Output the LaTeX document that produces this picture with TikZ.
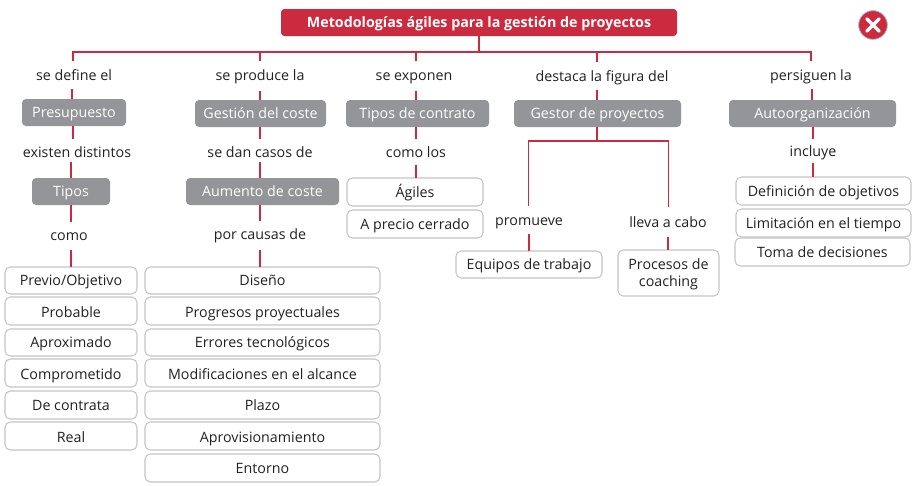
\documentclass[tikz,border=0pt]{standalone}
\usepackage{fontspec}
\setmainfont{Open Sans}
\definecolor{cred}{HTML}{CC2A3E}
\definecolor{cgrey}{HTML}{939598}
\definecolor{cedge}{HTML}{C4C6C8}
\definecolor{ctext}{HTML}{222222}
\tikzset{
  every node/.style={inner sep=0pt,outer sep=0pt,font=\fontsize{10.7}{12.8}\selectfont,text=ctext,text height=9.9pt,text depth=2.1pt},
  link/.style={draw=cred,line width=1.2pt},
  lab/.style={minimum height=#1*0.75pt},
  lab/.default=28,
  low/.style={text height=11pt,text depth=1.7pt},
  titlebox/.style={fill=cred,rounded corners=2.5pt,text=white,font=\fontsize{10.7}{12.8}\bfseries\selectfont},
  greybox/.style={fill=cgrey,rounded corners=3pt,text=white},
  itembox/.style={draw=cedge,line width=0.8pt,fill=white,rounded corners=4pt},
  twolines/.style={text height=22.4pt,text depth=2.2pt},
}
% name, x1, y1, x2, y2, style, text
\newcommand\bx[7]{\node[#6,minimum width={(#4-#2)*0.75pt},minimum height={(#5-#3)*0.75pt},align=center] (#1) at ({(#2+#4)/2},{(#3+#5)/2}) {#7};}
\newcommand\conn[4][]{\path (#4,0) coordinate (tmpx); \draw[link,#1] (#2 -| tmpx) -- (#3 -| tmpx);}
\begin{document}
\begin{tikzpicture}[x=0.75pt,y=-0.75pt]
\useasboundingbox[fill=white] (0,0) rectangle (915,486);
\bx{title}{281}{9}{677}{36}{titlebox}{Metodologías ágiles para la gestión de proyectos}
\coordinate (busl) at (73,52);
\coordinate (busr) at (811,52);
\coordinate (busm) at (479,52);
\draw[link,line cap=rect] (busl) -- (busr);
\draw[link] (title.south -| busm) -- (busm);
% column 1
\node[lab] (l11) at (74,75) {se define el};
\bx{presu}{22}{99}{126}{126}{greybox}{Presupuesto}
\node[lab=26] (l12) at (77,152) {existen distintos};
\bx{tipos}{32}{178}{110}{205}{greybox}{Tipos}
\node[lab=26] (l13) at (69,235) {como};
\bx{a1}{5}{267}{137}{294}{itembox}{Previo/Objetivo}
\bx{a2}{5}{297}{137}{325}{itembox,low}{Probable}
\bx{a3}{5}{329}{137}{356}{itembox}{Aproximado}
\bx{a4}{5}{359}{137}{387}{itembox,low}{Comprometido}
\bx{a5}{5}{391}{137}{419}{itembox}{De contrata}
\bx{a6}{5}{422}{137}{450}{itembox,low}{Real}
\conn{busl}{l11.north}{73}
\conn{l11.south}{presu.north}{72}
\conn{presu.south}{l12.north}{73}
\conn[shorten <=-3*0.75pt]{l12.south}{tipos.north}{71}
\conn{tipos.south}{l13.north}{71}
\conn[shorten <=1.5pt]{l13.south}{a1.north}{71}
% column 2
\node[lab] (l21) at (260,75) {se produce la};
\bx{gest}{195}{100}{326}{127}{greybox}{Gestión del coste}
\node[lab=26] (l22) at (260,152) {se dan casos de};
\bx{aum}{186}{178}{339}{205}{greybox}{Aumento de coste}
\node[lab=26] (l23) at (260,234) {por causas de};
\bx{b1}{145}{267}{380}{294}{itembox}{Diseño}
\bx{b2}{145}{297}{380}{325}{itembox,low}{Progresos proyectuales}
\bx{b3}{145}{329}{380}{356}{itembox}{Errores tecnológicos}
\bx{b4}{145}{359}{380}{387}{itembox,low}{Modificaciones en el alcance}
\bx{b5}{145}{391}{380}{419}{itembox}{Plazo}
\bx{b6}{145}{422}{380}{450}{itembox,low}{Aprovisionamiento}
\bx{b7}{145}{454}{380}{482}{itembox}{Entorno}
\conn{busl}{l21.north}{260}
\conn[shorten <=1.5pt]{l21.south}{gest.north}{260}
\conn{gest.south}{l22.north}{260}
\conn[shorten <=-2.25pt]{l22.south}{aum.north}{260}
\conn{aum.south}{l23.north}{260}
\conn[shorten <=2.25pt]{l23.south}{b1.north}{260}
% column 3
\node[lab] (l31) at (414,75) {se exponen};
\bx{cont}{346}{100}{489}{127}{greybox}{Tipos de contrato}
\node[lab=26] (l32) at (416,152) {como los};
\bx{c1}{347}{178}{483}{206}{itembox}{Ágiles}
\bx{c2}{347}{210}{483}{238}{itembox}{A precio cerrado}
\conn{busl}{l31.north}{416}
\conn[shorten <=1.5pt]{l31.south}{cont.north}{416}
\conn{cont.south}{l32.north}{416}
\conn{l32.south}{c1.north}{416}
% column 4
\node[lab] (l41) at (602,76) {destaca la figura del};
\bx{gp}{514}{100}{681}{127}{greybox}{Gestor de proyectos}
\coordinate (forkl) at (528.5,141);
\coordinate (forkr) at (668.5,141);
\coordinate (forkm) at (597,141);
\node[lab] (l42) at (529,220) {promueve};
\node[lab=30] (l43) at (668,222) {lleva a cabo};
\bx{d1}{456}{251}{602}{278}{itembox}{Equipos de trabajo}
\bx{d2}{618}{250}{719}{296}{itembox,twolines}{Procesos de\\coaching}
\conn{busl}{l41.north}{597}
\conn{l41.south}{gp.north}{597}
\conn{gp.south}{forkm}{597}
\draw[link,line cap=rect] (forkl) -- (forkr);
\conn{forkl}{l42.north}{528.5}
\conn{forkr}{l43.north}{668.5}
\conn{l42.south}{d1.north}{529}
\conn{l43.south}{d2.north}{668}
% column 5
\node[lab] (l51) at (811,75) {persiguen la};
\bx{auto}{729}{100}{896}{127}{greybox}{Autoorganización}
\node[lab=24] (l52) at (813,151) {incluye};
\bx{e1}{736}{177}{911}{205}{itembox}{Definición de objetivos}
\bx{e2}{736}{209}{911}{237}{itembox}{Limitación en el tiempo}
\bx{e3}{735}{238}{910}{266}{itembox}{Toma de decisiones}
\conn{busr}{l51.north}{811}
\conn{l51.south}{auto.north}{812}
\conn{auto.south}{l52.north}{813}
\conn{l52.south}{e1.north}{813}
% close icon
\node[circle,fill=cred,draw=cgrey!70,line width=0.6pt,minimum size=21.5pt] (close) at (873,25) {};
\draw[white,line width=2.6pt,line cap=round] ([xshift=-4.6pt,yshift=4.6pt]close.center) -- ([xshift=4.6pt,yshift=-4.6pt]close.center);
\draw[white,line width=2.6pt,line cap=round] ([xshift=-4.6pt,yshift=-4.6pt]close.center) -- ([xshift=4.6pt,yshift=4.6pt]close.center);
\end{tikzpicture}
\end{document}
